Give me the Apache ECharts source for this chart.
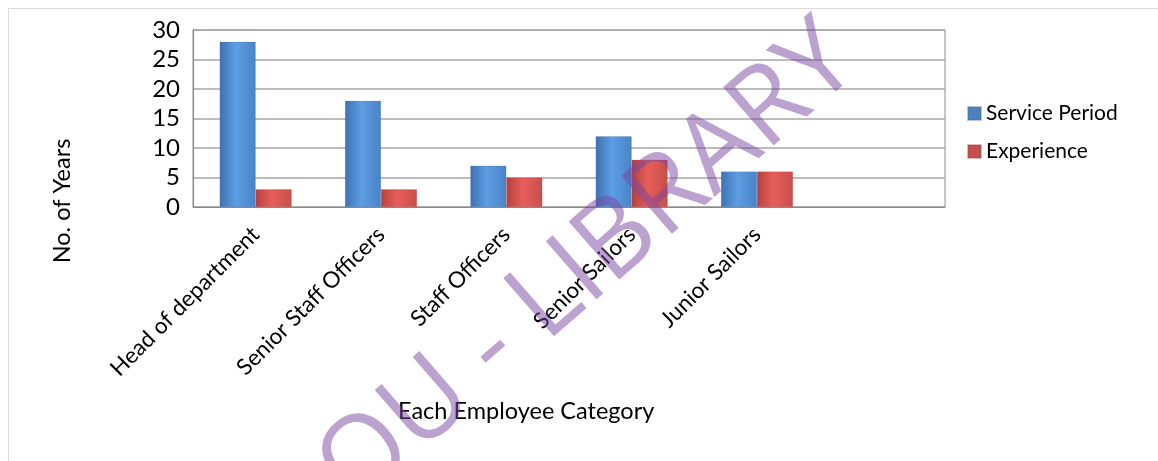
<!DOCTYPE html>
<html>
<head>
<meta charset="utf-8">
<script src="https://cdn.jsdelivr.net/npm/echarts@6/dist/echarts.min.js"></script>
<style>
  html, body { margin: 0; padding: 0; background: #fff; }
  #chart { width: 1158px; height: 461px; }
</style>
</head>
<body>
<div id="chart"></div>
<script>
// Employee categories (last slot is an empty category on the axis)
const categories = ['Head of department', 'Senior Staff Officers', 'Staff Officers', 'Senior Sailors', 'Junior Sailors', ''];
const servicePeriod = [28, 18, 7, 12, 6, null];
const experience = [3, 3, 5, 8, 6, null];
const yTicks = { min: 0, max: 30, interval: 5 };

const FONT = 'Lato, "Open Sans", sans-serif';

function barGradient(edgeL, mid, edgeR) {
  return new echarts.graphic.LinearGradient(0, 0, 1, 0, [
    { offset: 0, color: edgeL },
    { offset: 0.45, color: mid },
    { offset: 1, color: edgeR }
  ]);
}

const chart = echarts.init(document.getElementById('chart'), null, { renderer: 'canvas' });

chart.setOption({
  backgroundColor: '#ffffff',
  animation: false,
  textStyle: { fontFamily: FONT },
  grid: {
    left: 193, right: 213, top: 30, bottom: 254,
    show: true, borderColor: '#8a8a8a', borderWidth: 1, backgroundColor: 'transparent'
  },
  legend: {
    orient: 'vertical',
    left: 962, top: 98,
    itemWidth: 13, itemHeight: 13, itemGap: 17,
    icon: 'rect',
    textStyle: { fontFamily: FONT, fontSize: 21, color: '#000' },
    data: [
      { name: 'Service Period', itemStyle: { color: '#4F81BD' } },
      { name: 'Experience', itemStyle: { color: '#C0504D' } }
    ]
  },
  xAxis: {
    type: 'category',
    data: categories,
    axisLine: { show: true, lineStyle: { color: '#8a8a8a', width: 1 } },
    axisTick: { show: false },
    axisLabel: {
      rotate: 45, margin: 24, interval: 0,
      fontFamily: FONT, fontSize: 22.5, color: '#000'
    }
  },
  yAxis: {
    type: 'value',
    min: yTicks.min, max: yTicks.max, interval: yTicks.interval,
    axisLine: { show: true, lineStyle: { color: '#8a8a8a', width: 1 } },
    axisTick: { show: false },
    axisLabel: { margin: 13, fontFamily: FONT, fontSize: 24, color: '#000' },
    splitLine: { show: true, lineStyle: { color: '#a6a6a6', width: 1.5 } }
  },
  series: [
    {
      name: 'Service Period', type: 'bar', data: servicePeriod,
      barWidth: 36, barGap: '0%',
      itemStyle: { color: barGradient('#3E71B2', '#5D9DE3', '#4A83C7'), borderColor: 'rgba(60,100,160,0.35)', borderWidth: 0.5 }
    },
    {
      name: 'Experience', type: 'bar', data: experience,
      barWidth: 36, barGap: '0%',
      itemStyle: { color: barGradient('#B5403E', '#E75E5B', '#C84F4C'), borderColor: 'rgba(160,60,60,0.35)', borderWidth: 0.5 }
    }
  ],
  graphic: [
    // outer frame
    {
      type: 'rect', z: 1, silent: true,
      shape: { x: 8.5, y: 8.5, width: 1170, height: 480 },
      style: { fill: 'none', stroke: '#d9d9d9', lineWidth: 1 }
    },
    // axis titles
    {
      type: 'text', z: 50, left: 398, top: 399,
      style: { text: 'Each Employee Category', fontFamily: FONT, fontSize: 23.5, fill: '#000' }
    },
    {
      type: 'text', z: 50, x: 62, y: 201, rotation: Math.PI / 2,
      style: { text: 'No. of Years', fontFamily: FONT, fontSize: 23.5, fill: '#000', align: 'center', verticalAlign: 'middle' }
    },
    // watermark
    {
      type: 'text', z: 100, silent: true,
      x: 588, y: 266, rotation: 41 * Math.PI / 180,
      style: {
        text: 'OU - LIBRARY', fontFamily: '"Open Sans", sans-serif', fontSize: 108,
        fill: 'rgba(120,70,160,0.5)', align: 'center', verticalAlign: 'middle'
      }
    }
  ]
});
</script>
</body>
</html>
